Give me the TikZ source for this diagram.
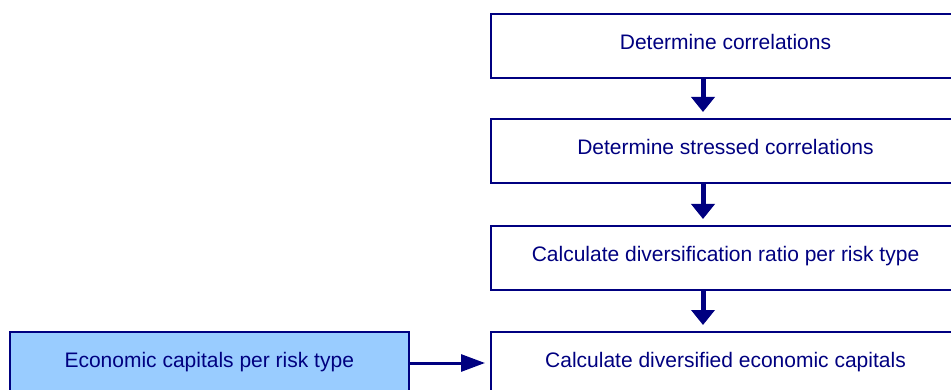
\documentclass[tikz,border=0pt]{standalone}
\usepackage{fontspec}
\setmainfont{Liberation Sans}
\usetikzlibrary{arrows.meta}
\definecolor{navy}{RGB}{0,0,128}
\definecolor{lightfill}{RGB}{153,204,255}
\begin{document}
\begin{tikzpicture}[x=1pt,y=-1pt,
  box/.style={draw=navy,line width=2pt,rectangle,inner sep=0pt,
    minimum height=64pt,text=navy,font=\fontsize{21}{25}\selectfont,
    text height=15pt,text depth=8pt},
  stepbox/.style={box,minimum width=469pt,fill=white},
  inbox/.style={box,minimum width=399.5pt,fill=lightfill},
  varrow/.style={draw=navy,line width=5pt,-{Triangle[length=15pt,width=23pt]},shorten >=6pt},
  harrow/.style={draw=navy,line width=3pt,-{Triangle[length=24pt,width=17pt]},shorten >=5pt}]
\useasboundingbox (0,0) rectangle (951,390);
\begin{scope}
\clip (0,0) rectangle (951,390);
\node[stepbox] (b1) at (725.5,46) {Determine correlations};
\node[stepbox] (b2) at (725.5,151) {Determine stressed correlations};
\node[stepbox] (b3) at (725.5,258) {Calculate diversification ratio per risk type};
\node[stepbox] (b4) at (725.5,364) {Calculate diversified economic capitals};
\node[inbox] (ec) at (209.25,364) {Economic capitals per risk type};
\draw[varrow] ([xshift=-22.5pt]b1.south) -- ([xshift=-22.5pt]b2.north);
\draw[varrow] ([xshift=-22.5pt]b2.south) -- ([xshift=-22.5pt]b3.north);
\draw[varrow] ([xshift=-22.5pt]b3.south) -- ([xshift=-22.5pt]b4.north);
\draw[harrow] ([yshift=1pt]ec.east) -- ([yshift=1pt]b4.west);
\end{scope}
\end{tikzpicture}
\end{document}
